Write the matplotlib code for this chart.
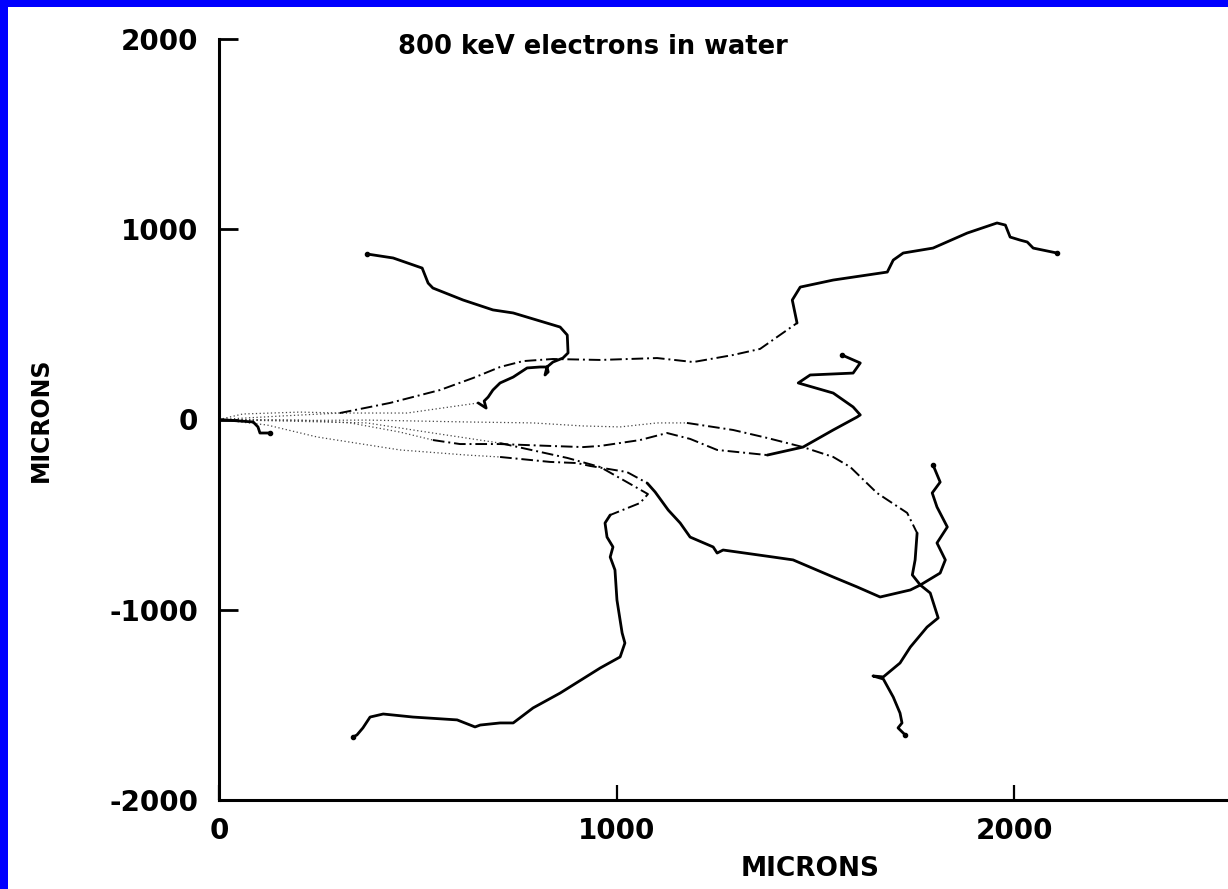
import matplotlib
matplotlib.use('Agg')
import matplotlib.pyplot as plt
from matplotlib.patches import Rectangle

# electron tracks, microns
track_a_x = [0, 60, 204, 304, 473, 652, 672, 667, 677, 689, 707, 740, 775, 808, 825, 820, 828, 825,
             840, 865, 878, 876, 858, 740, 689, 614, 538, 526, 511, 438, 372]
track_a_y = [0, 29, 39, 34, 34, 87, 60, 97, 118, 155, 192, 223, 271, 276, 276, 234, 250, 276,
             302, 323, 350, 444, 486, 560, 576, 628, 691, 717, 796, 849, 870]

track_b_x = [0, 153, 304, 430, 556, 639, 707, 765, 840, 959, 1102, 1193, 1293, 1361, 1454, 1442,
             1462, 1545, 1681, 1696, 1721, 1796, 1882, 1957, 1978, 1990, 2015, 2033, 2048, 2108]
track_b_y = [0, 18, 34, 87, 155, 218, 276, 307, 318, 313, 323, 302, 339, 371, 507, 628,
             696, 733, 775, 838, 875, 901, 980, 1033, 1022, 959, 943, 933, 901, 875]

track_c_x = [0, 204, 330, 455, 538, 606, 707, 833, 916, 959, 1059, 1127, 1185, 1253, 1379, 1469,
             1545, 1605, 1613, 1595, 1545, 1457, 1487, 1595, 1613, 1567]
track_c_y = [0, -3, -18, -66, -108, -129, -129, -139, -145, -139, -108, -71, -102, -160, -187, -145,
             -55, 13, 24, 66, 139, 192, 234, 244, 297, 339]

track_d_x = [0, 204, 372, 624, 790, 916, 1009, 1102, 1177, 1293, 1379, 1469, 1545, 1588, 1655, 1731,
             1756, 1751, 1744, 1764, 1789, 1809, 1781, 1739, 1713, 1671, 1645, 1671, 1696, 1713,
             1718, 1708, 1726]
track_d_y = [0, -5, -3, -13, -18, -34, -39, -18, -18, -55, -97, -145, -197, -250, -386, -491,
             -597, -738, -817, -870, -912, -1043, -1091, -1196, -1280, -1353, -1348, -1364, -1459, -1543,
             -1595, -1621, -1658]

track_e_x = [0, 121, 247, 455, 624, 707, 833, 901, 933, 1026, 1077, 1097, 1130, 1160, 1185, 1243,
             1253, 1268, 1394, 1444, 1545, 1605, 1663, 1739, 1764, 1814, 1827, 1806, 1832, 1806,
             1794, 1814, 1796]
track_e_y = [0, -29, -92, -160, -187, -197, -223, -229, -244, -276, -334, -381, -476, -544, -618, -670,
             -702, -686, -723, -738, -828, -880, -933, -896, -870, -807, -738, -649, -565, -460,
             -386, -329, -239]

track_f_x = [0, 372, 538, 707, 876, 959, 1021, 1079, 1059, 984, 971, 976, 991, 984, 996, 1001,
             1014, 1021, 1009, 959, 858, 790, 740, 707, 657, 644, 599, 488, 413, 380, 362, 347, 337]
track_f_y = [0, -18, -71, -124, -202, -250, -323, -392, -439, -502, -544, -618, -670, -723, -791, -949,
             -1122, -1175, -1248, -1306, -1438, -1516, -1595, -1595, -1606, -1616, -1579, -1564,
             -1548, -1564, -1621, -1658, -1669]

track_g_x = [0, 86, 98, 103, 128]
track_g_y = [0, -13, -39, -71, -71]

# where each track changes from dotted -> dash-dot -> solid (point index)
tracks = [
    (track_a_x, track_a_y, 5, 5),
    (track_b_x, track_b_y, 2, 14),
    (track_c_x, track_c_y, 4, 14),
    (track_d_x, track_d_y, 8, 16),
    (track_e_x, track_e_y, 5, 10),
    (track_f_x, track_f_y, 3, 9),
    (track_g_x, track_g_y, 0, 0),
]

plt.rcParams['font.family'] = ['DejaVu Sans']
plt.rcParams['font.weight'] = 'bold'
plt.rcParams['axes.unicode_minus'] = False

fig = plt.figure(figsize=(12.28, 8.89), dpi=100)
fig.patch.set_facecolor('#0000ff')
fig.patches.append(Rectangle((8 / 1228, 0), 1, 1 - 7 / 889, transform=fig.transFigure,
                             facecolor='white', edgecolor='none', zorder=-10))

ax = fig.add_axes([219 / 1228, 89 / 889, 1009 / 1228, 761 / 889])
ax.set_facecolor('none')

for xs, ys, dot_end, dash_end in tracks:
    if dot_end > 0:
        ax.plot(xs[:dot_end + 1], ys[:dot_end + 1], color='#444444', lw=0.9, ls=(0, (1, 2)))
    if dash_end > dot_end:
        ax.plot(xs[dot_end:dash_end + 1], ys[dot_end:dash_end + 1], color='black', lw=1.4,
                ls=(0, (6, 2, 1, 2)))
    ax.plot(xs[dash_end:], ys[dash_end:], color='black', lw=2.0,
            solid_capstyle='round', solid_joinstyle='round')
    ax.plot(xs[-1], ys[-1], 'o', ms=3, color='black')

ax.set_xlim(0, 2538)
ax.set_ylim(-2000, 2000)
ax.set_xticks([0, 1000, 2000])
ax.set_yticks([-2000, -1000, 0, 1000, 2000])

ax.spines['top'].set_visible(False)
ax.spines['right'].set_visible(False)
ax.spines['left'].set_linewidth(2.2)
ax.spines['bottom'].set_linewidth(2.2)
ax.tick_params(axis='y', direction='in', length=14, width=2, labelsize=20, pad=15)
ax.tick_params(axis='x', direction='in', length=11, width=1.6, labelsize=20, pad=12)

ax.set_xlabel('MICRONS', fontsize=19, fontweight='bold')
ax.xaxis.set_label_coords(0.586, -0.074)
ax.set_ylabel('MICRONS', fontsize=17, fontweight='bold')
ax.yaxis.set_label_coords(-0.165, 0.5)

fig.text(593 / 1228, 1 - 47 / 889, '800 keV electrons in water', fontsize=18.5,
         fontweight='bold', ha='center', va='center')

fig.savefig('out.png', dpi=100)
